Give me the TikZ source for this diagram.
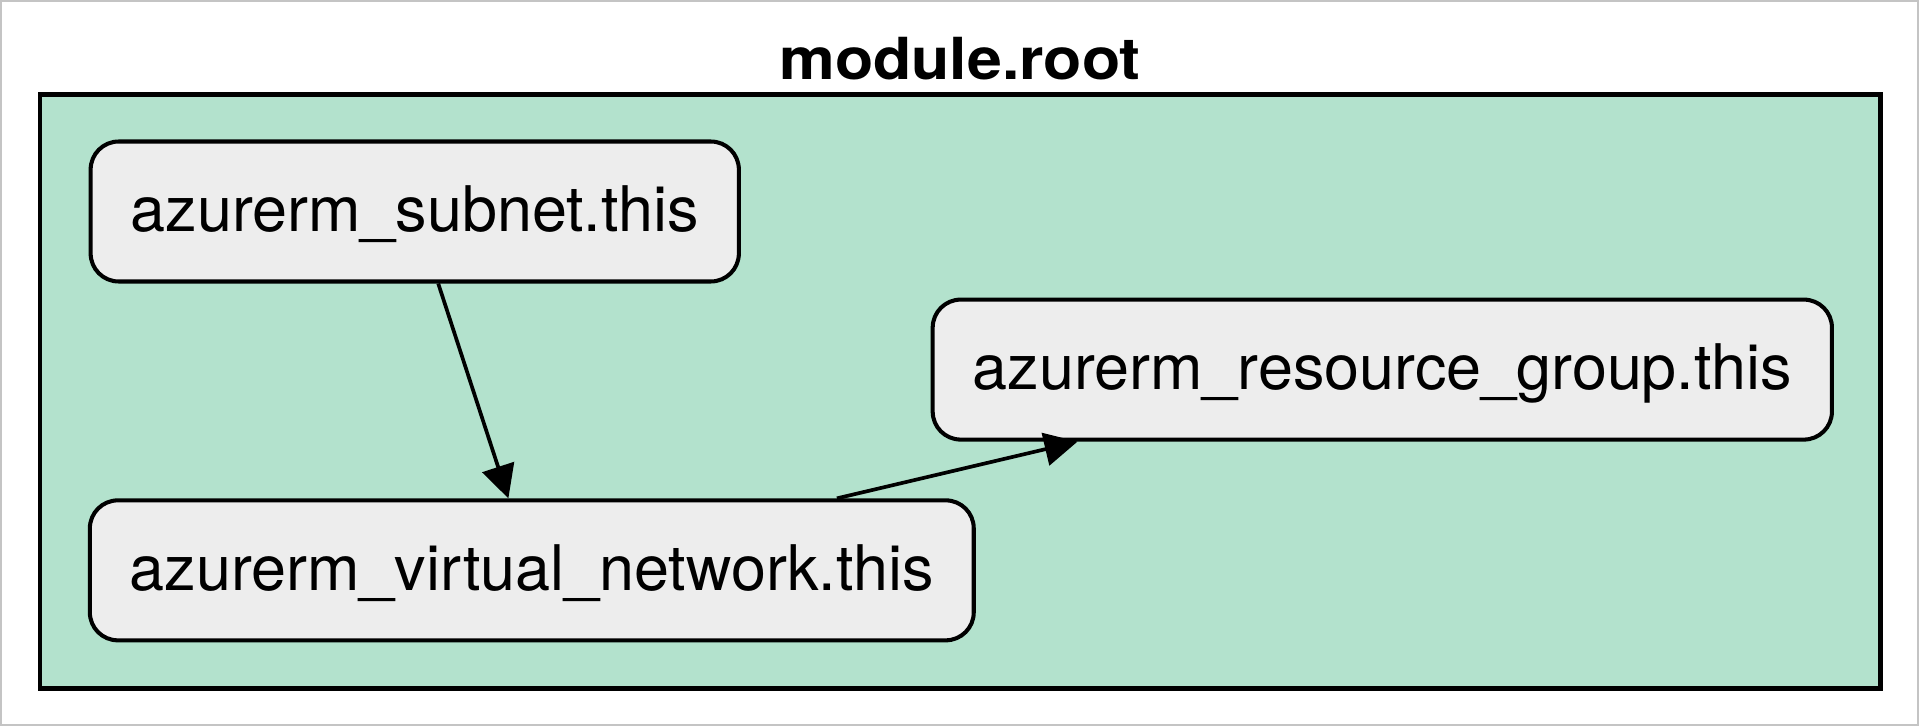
\documentclass[tikz,border=0pt]{standalone}
\usepackage{fontspec}
\setmainfont{TeX Gyre Heros}
\usepackage{xcolor}
\usepackage{tikz}
\usetikzlibrary{arrows.meta}
\definecolor{clusterfill}{HTML}{B3E2CD}
\definecolor{nodefill}{HTML}{EDEDED}
\definecolor{framegray}{HTML}{C4C4C4}

\begin{document}
\begin{tikzpicture}[x=0.02cm, y=-0.02cm,
  cluster/.style={draw, line width=2.5pt, fill=clusterfill, minimum width=36.82cm, minimum height=11.88cm},
  resource/.style={draw, line width=2.3pt, fill=nodefill, rounded corners=0.56cm,
    minimum height=2.8cm, inner xsep=0.8cm, font=\fontsize{35.8}{43}\selectfont,
    text height=31.5pt, text depth=8.6pt},
  depends/.style={line width=2.1pt, -{Triangle[length=0.66cm, width=0.66cm]}}]
  \useasboundingbox (0,0) rectangle (1919,726);
  % Frame
  \draw[framegray, line width=0.04cm] (1,1) rectangle (1918,725);
  % Cluster
  \node[cluster] (root) at (960.1,391.6) {};
  \node[font=\bfseries\fontsize{33}{40}\selectfont, anchor=base, inner sep=0pt] (title) at (960,80) {\scalebox{1.08}[1]{module.root}};
  % Resources
  \node[resource] (subnet) at (414.75,211.5) {azurerm\_subnet.this};
  \node[resource] (rg) at (1382.3,369.6) {azurerm\_resource\_group.this};
  \node[resource] (vnet) at (531.8,570.35) {azurerm\_virtual\_network.this};
  % Dependencies
  \draw[depends] (subnet) -- (vnet);
  \draw[depends] (vnet) -- (rg);
\end{tikzpicture}
\end{document}
